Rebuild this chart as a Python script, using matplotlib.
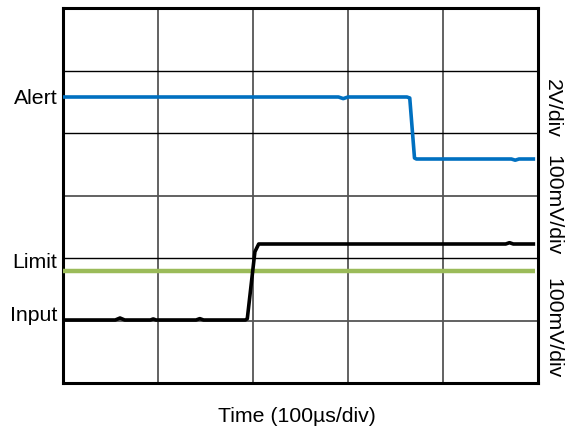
import matplotlib
matplotlib.use("Agg")
import matplotlib.pyplot as plt

plt.rcParams['font.family'] = ['Liberation Sans', 'DejaVu Sans']

# Data in screen divisions (x: 5 div, y: 6 div)
alert_x = [0, 2.90, 2.95, 3.00, 3.62, 3.65, 3.70, 3.72, 4.72, 4.76, 4.80, 4.97]
alert_y = [4.576, 4.576, 4.55, 4.576, 4.576, 4.56, 3.60, 3.584, 3.584, 3.565, 3.584, 3.584]

input_x = [0, 0.55, 0.60, 0.65, 0.92, 0.95, 0.98, 1.40, 1.44, 1.48, 1.92, 1.94, 2.02, 2.06, 4.66, 4.70, 4.74, 4.97]
input_y = [1.008, 1.008, 1.04, 1.008, 1.008, 1.025, 1.008, 1.008, 1.03, 1.008, 1.008, 1.03, 2.10, 2.224, 2.224, 2.245, 2.224, 2.224]

limit_x = [0, 4.97]
limit_y = [1.797, 1.797]

left_labels = ["Alert", "Limit", "Input"]
left_label_y = [4.56, 1.925, 1.085]
right_labels = ["2V/div", "100mV/div", "100mV/div"]
right_label_y = [4.4, 2.85, 0.88]

fig = plt.figure(figsize=(5.65, 4.32), dpi=100)
ax = fig.add_axes([63/565, 1 - 383/432, 475/565, 375/432])
ax.set_xlim(0, 5)
ax.set_ylim(0, 6)
ax.set_xticks(range(6))
ax.set_yticks(range(7))
ax.tick_params(length=0, labelleft=False, labelbottom=False)

for x in range(1, 5):
    ax.axvline(x, color='#555555', lw=1.3, zorder=1)
hcolors = {1: '#555555', 2: '#000000', 3: '#555555', 4: '#000000', 5: '#000000'}
for y in range(1, 6):
    ax.axhline(y, color=hcolors[y], lw=1.0 if hcolors[y] == '#000000' else 1.3, zorder=1)

for s in ax.spines.values():
    s.set_linewidth(2.2)

ax.plot(limit_x, limit_y, color='#9BBB59', lw=3.2, zorder=3, solid_capstyle='butt')
ax.plot(input_x, input_y, color='#000000', lw=2.6, zorder=4, solid_joinstyle='round', solid_capstyle='butt')
ax.plot(alert_x, alert_y, color='#0070C0', lw=2.6, zorder=4, solid_joinstyle='round', solid_capstyle='butt')

for t, y in zip(left_labels, left_label_y):
    ax.text(-0.06, y, t, ha='right', va='center', fontsize=15.3, transform=ax.transData, clip_on=False)
for t, y in zip(right_labels, right_label_y):
    ax.text(5.155, y, t, ha='center', va='center', rotation=-90, fontsize=15.3, clip_on=False)

fig.text(297/565, 1 - 417/432, "Time (100\u00b5s/div)", ha='center', va='center', fontsize=15.3)

fig.savefig("out.png", dpi=100)
